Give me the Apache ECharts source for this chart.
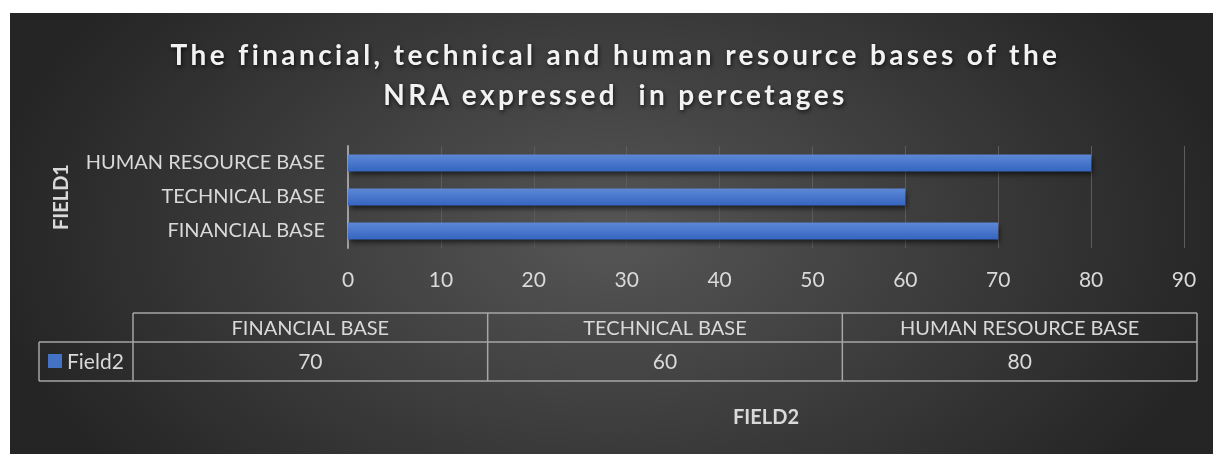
<!DOCTYPE html>
<html>
<head>
<meta charset="utf-8">
<script src="https://cdn.jsdelivr.net/npm/echarts@6/dist/echarts.min.js"></script>
<style>
  html, body { margin: 0; padding: 0; background: #fff; }
  #wrap { position: relative; width: 1213px; height: 454px; background: #fff; }
  #bg {
    position: absolute; left: 10px; top: 13px; right: 0; bottom: 0;
    background: radial-gradient(ellipse 52% 87% at 50% 50%, #565656 0%, #252525 100%);
  }
  #chart { position: absolute; left: 0; top: 0; width: 1213px; height: 454px; }
  #title {
    position: absolute; left: 18px; right: 0; top: 34px;
    text-align: center; white-space: pre;
    font: bold 28px/40px Lato, "Open Sans", sans-serif;
    letter-spacing: 3.4px;
    color: #f2f2f2;
    text-shadow: 1px 2px 4px rgba(0,0,0,0.7);
    pointer-events: none;
  }
</style>
</head>
<body>
<div id="wrap">
  <div id="bg"></div>
  <div id="chart"></div>
  <div id="title"></div>
</div>
<script>
const titleLines = ['The financial, technical and human resource bases of the', 'NRA expressed  in percetages'];
const categories = ['FINANCIAL BASE', 'TECHNICAL BASE', 'HUMAN RESOURCE BASE'];
const seriesName = 'Field2';
const values = [70, 60, 80];
const xTicks = { min: 0, max: 90, interval: 10 };
const yAxisName = 'FIELD1';
const xAxisName = 'FIELD2';

const textColor = '#d9d9d9';
const lineColor = '#a6a6a6';
const barBlue = '#4472c4';
const font = 'Lato, "Open Sans", sans-serif';

// title with letter spacing (zrender has no letterSpacing)
document.getElementById('title').textContent = titleLines.join('\n');

// data table under the chart
const tbl = { left: 133, right: 1197, top: 313, mid: 342, bottom: 381, legendLeft: 39 };
const colW = (tbl.right - tbl.left) / categories.length;
const tableGraphic = [];
const hline = (x1, x2, y) => ({ type: 'line', shape: { x1: x1, y1: y, x2: x2, y2: y }, style: { stroke: lineColor, lineWidth: 1.5 }, silent: true });
const vline = (x, y1, y2) => ({ type: 'line', shape: { x1: x, y1: y1, x2: x, y2: y2 }, style: { stroke: lineColor, lineWidth: 1.5 }, silent: true });

tableGraphic.push(hline(tbl.left, tbl.right, tbl.top));
tableGraphic.push(hline(tbl.legendLeft, tbl.right, tbl.mid));
tableGraphic.push(hline(tbl.legendLeft, tbl.right, tbl.bottom));
tableGraphic.push(vline(tbl.legendLeft, tbl.mid, tbl.bottom));
for (let i = 0; i <= categories.length; i++) {
    tableGraphic.push(vline(tbl.left + colW * i, tbl.top, tbl.bottom));
}
categories.forEach((c, i) => {
    const cx = tbl.left + colW * (i + 0.5);
    tableGraphic.push({
        type: 'text', x: cx, y: (tbl.top + tbl.mid) / 2 + 1,
        style: { text: c, fill: textColor, font: '20px ' + font, align: 'center', verticalAlign: 'middle' }
    });
    tableGraphic.push({
        type: 'text', x: cx, y: (tbl.mid + tbl.bottom) / 2 + 1,
        style: { text: String(values[i]), fill: textColor, font: '21px ' + font, align: 'center', verticalAlign: 'middle' }
    });
});
tableGraphic.push({
    type: 'rect', shape: { x: 48, y: 354, width: 14, height: 14 },
    style: { fill: barBlue }
});
tableGraphic.push({
    type: 'text', x: 67, y: (tbl.mid + tbl.bottom) / 2 + 1,
    style: { text: seriesName, fill: textColor, font: '21px ' + font, align: 'left', verticalAlign: 'middle' }
});

const chart = echarts.init(document.getElementById('chart'));

const option = {
    backgroundColor: 'transparent',
    animation: false,
    grid: { left: 348, right: 29, top: 146, height: 102, containLabel: false },
    xAxis: {
        type: 'value',
        min: xTicks.min,
        max: xTicks.max,
        interval: xTicks.interval,
        name: xAxisName,
        nameLocation: 'middle',
        nameGap: 160,
        nameTextStyle: { color: textColor, fontFamily: font, fontWeight: 'bold', fontSize: 20 },
        axisLine: { show: false },
        axisTick: { show: false },
        axisLabel: { color: textColor, fontFamily: font, fontSize: 21, margin: 22 },
        splitLine: { lineStyle: { color: '#5c5c5c', width: 1 } }
    },
    yAxis: {
        type: 'category',
        data: categories,
        name: yAxisName,
        nameLocation: 'middle',
        nameRotate: 90,
        nameGap: 276,
        nameTextStyle: { color: textColor, fontFamily: font, fontWeight: 'bold', fontSize: 20 },
        axisLine: { show: true, lineStyle: { color: '#a0a0a0', width: 2 } },
        axisTick: { show: false },
        axisLabel: { color: textColor, fontFamily: font, fontSize: 20, margin: 23 },
        splitLine: { show: false }
    },
    series: [{
        name: seriesName,
        type: 'bar',
        data: values,
        barWidth: 17,
        itemStyle: {
            color: {
                type: 'linear', x: 0, y: 0, x2: 0, y2: 1,
                colorStops: [
                    { offset: 0, color: '#5d88d6' },
                    { offset: 1, color: '#3565c0' }
                ]
            },
            shadowColor: 'rgba(0,0,0,0.6)',
            shadowBlur: 5,
            shadowOffsetX: 2,
            shadowOffsetY: 3
        }
    }],
    graphic: tableGraphic
};

chart.setOption(option);
</script>
</body>
</html>
